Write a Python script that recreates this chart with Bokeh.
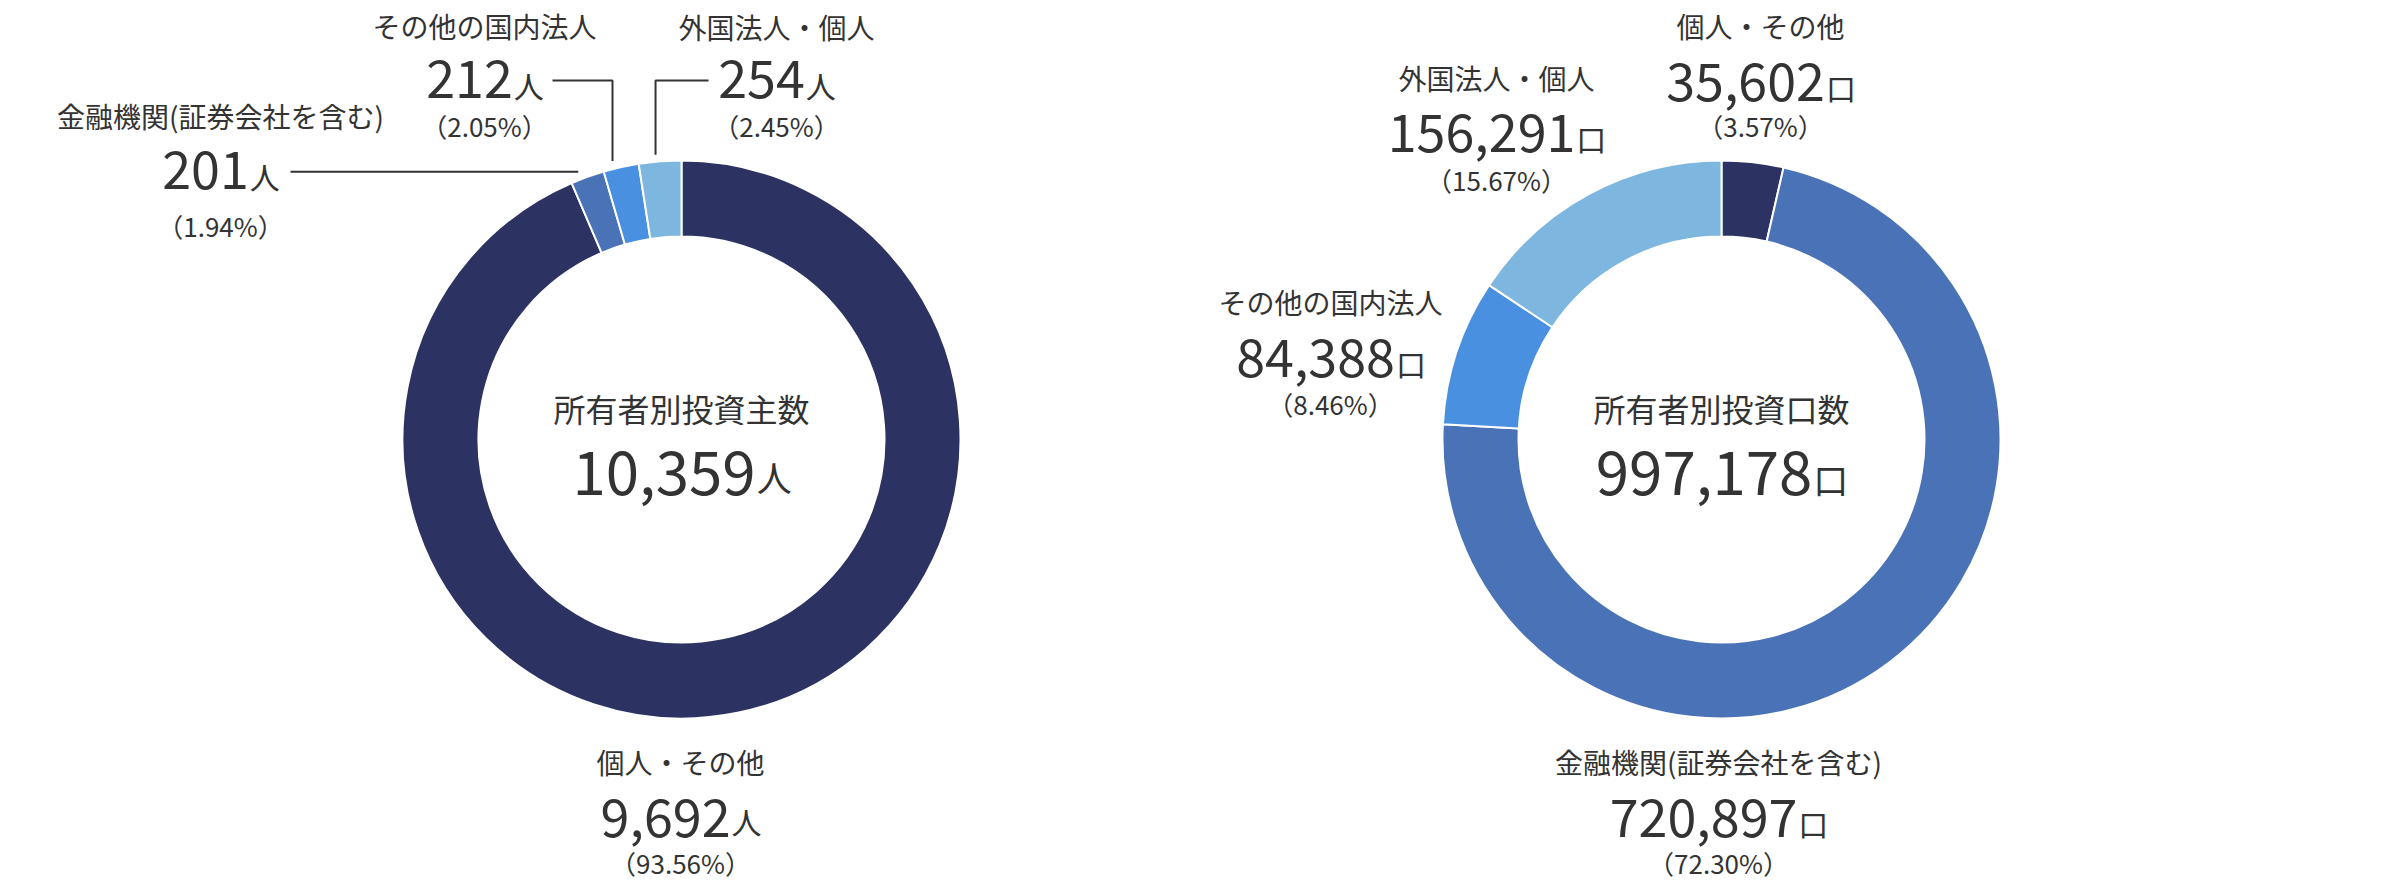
import math
from bokeh.plotting import figure
from bokeh.models import Range1d
from bokeh.core.properties import value
from bokeh.embed import file_html
from bokeh.resources import INLINE

# ---------------- data ----------------
categories = ["個人・その他", "金融機関(証券会社を含む)", "その他の国内法人", "外国法人・個人"]
shareholders = [9692, 201, 212, 254]
shareholder_pct = [93.56, 1.94, 2.05, 2.45]
units = [35602, 720897, 84388, 156291]
unit_pct = [3.57, 72.30, 8.46, 15.67]
left_title = "所有者別投資主数"
right_title = "所有者別投資口数"
left_unit = "人"
right_unit = "口"
colors = ["#2c3262", "#4a72b6", "#4a90e0", "#7db6df"]

# ---------------- style / layout ----------------
FONT = "Noto Sans CJK JP"
TXT = "#333333"
W, H = 2400, 880
R_OUT, R_IN = 279, 203
NAME_FS, NUM_FS, UNIT_FS, PCT_FS = 28, 52, 30, 26
C_TITLE_FS, C_NUM_FS, C_UNIT_FS = 32, 60, 35
UNIT_CENTER = {"人": 0.41, "口": 0.335}

p = figure(width=W, height=H, x_range=Range1d(0, W), y_range=Range1d(0, H),
           output_backend="svg", toolbar_location=None, min_border=0,
           outline_line_color=None, background_fill_color="white")
p.axis.visible = False
p.grid.visible = False


def Y(yref):
    return H - yref


def text_at(x, yc, txt, fs, align="center"):
    p.text([x], [Y(yc)], text=[txt], text_align=align, text_baseline="middle",
           text_font=value(FONT), text_font_size=f"{fs}px", text_color=TXT)


def num_width(s, fs):
    w = 0.0
    for ch in s:
        w += 0.28 if ch == "," else 0.555
    return w * fs


def draw_number(cx, base_y, txt, unit, fs, ufs):
    wn = num_width(txt, fs)
    wu = ufs * 1.0
    ax = cx + (wn - wu) / 2.0
    k = 0.30 if "," in txt else 0.36
    text_at(ax, base_y - k * fs, txt, fs, "right")
    text_at(ax + 1, base_y - UNIT_CENTER[unit] * ufs, unit, ufs, "left")


def donut(cx, cy, vals):
    tot = float(sum(vals))
    cum = 0.0
    starts, ends = [], []
    for v in vals:
        starts.append(math.pi / 2 - 2 * math.pi * cum / tot)
        cum += v
        ends.append(math.pi / 2 - 2 * math.pi * cum / tot)
    p.annular_wedge(x=[cx] * len(vals), y=[Y(cy)] * len(vals), inner_radius=R_IN, outer_radius=R_OUT,
                    start_angle=starts, end_angle=ends, direction="clock",
                    fill_color=colors, line_color="white", line_width=2)
    return tot


def slice_point(cx, cy, vals, i, frac, r):
    tot = float(sum(vals))
    a0 = sum(vals[:i]) / tot
    a1 = sum(vals[:i + 1]) / tot
    a = 2 * math.pi * (a0 + frac * (a1 - a0))  # clockwise from top
    return cx + r * math.sin(a), cy - r * math.cos(a)


def label(cx, base_y, name_y, pct_y, name, num, unit, pct):
    text_at(cx, name_y, name, NAME_FS)
    draw_number(cx, base_y, f"{num:,}", unit, NUM_FS, UNIT_FS)
    text_at(cx, pct_y, f"（{pct:.2f}%）", PCT_FS)


# ---------------- left donut ----------------
LCX, LCY = 681, 439
tot_l = donut(LCX, LCY, shareholders)
text_at(LCX, 407, left_title, C_TITLE_FS)
draw_number(LCX, 490, f"{int(tot_l):,}", left_unit, C_NUM_FS, C_UNIT_FS)

# (centre x, number baseline, name centre, pct centre)
left_layout = [(680, 833, 761.5, 862), (220, 188, 115.5, 224.5), (484, 97, 25.5, 124.5), (776, 97, 26.5, 124.5)]
for i in range(4):
    cx, by, ny, py = left_layout[i]
    label(cx, by, ny, py, categories[i], shareholders[i], left_unit, shareholder_pct[i])

# leader lines
ex, ey = slice_point(LCX, LCY, shareholders, 1, 0.3, R_OUT + 8)
p.line([290, ex], [Y(ey), Y(ey)], line_color=TXT, line_width=2)
ex, ey = slice_point(LCX, LCY, shareholders, 2, 0.31, R_OUT + 8)
p.line([552, ex, ex], [Y(80), Y(80), Y(ey)], line_color=TXT, line_width=2)
ex, ey = slice_point(LCX, LCY, shareholders, 3, 0.41, R_OUT + 7)
p.line([708, ex, ex], [Y(80), Y(80), Y(ey)], line_color=TXT, line_width=2)

# ---------------- right donut ----------------
RCX, RCY = 1721, 439
tot_r = donut(RCX, RCY, units)
text_at(RCX, 407, right_title, C_TITLE_FS)
draw_number(RCX, 490, f"{int(tot_r):,}", right_unit, C_NUM_FS, C_UNIT_FS)

right_layout = [(1760, 97, 25, 125), (1718, 833, 761.5, 862), (1330, 373, 301.5, 402.5), (1496, 148, 77.5, 178.5)]
for i in range(4):
    cx, by, ny, py = right_layout[i]
    label(cx, by, ny, py, categories[i], units[i], right_unit, unit_pct[i])

open("out.html", "w").write(file_html(p, INLINE))
